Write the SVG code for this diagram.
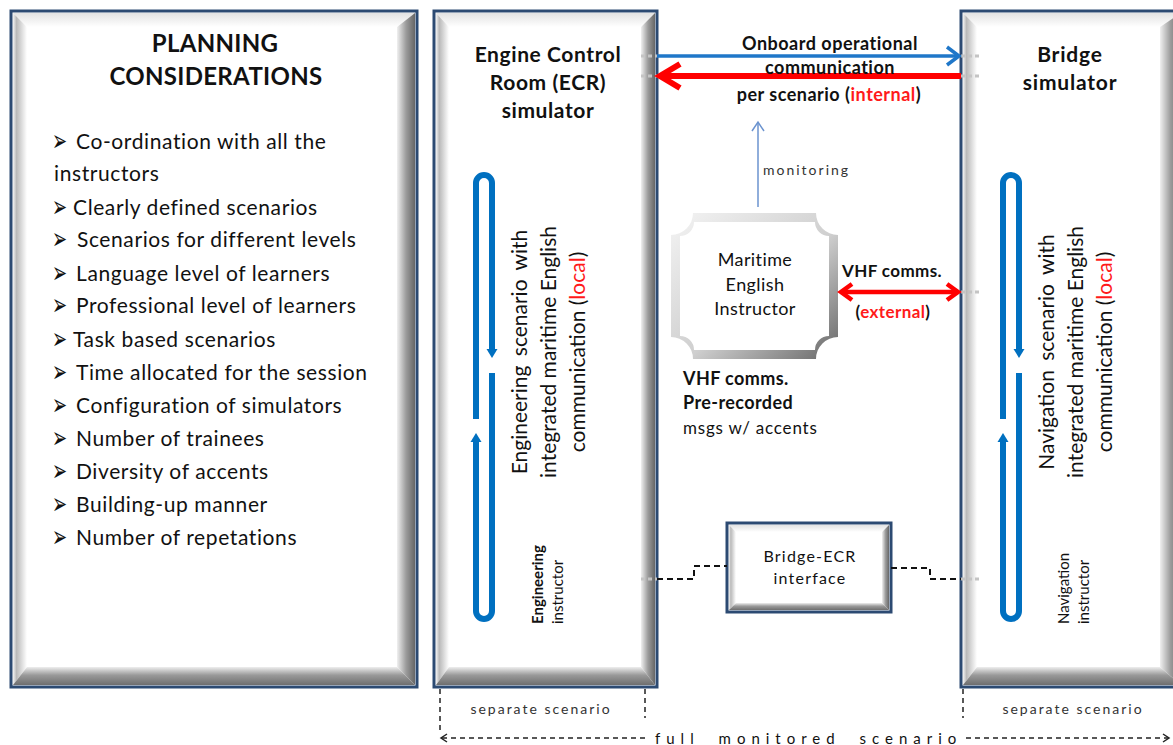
<svg xmlns="http://www.w3.org/2000/svg" width="1173" height="745" viewBox="0 0 1173 745">
  <style>
    .t { font-family: Lato, "Liberation Sans", sans-serif; fill: #111; }
    .b { font-weight: bold; }
    .red { fill: #ff1a1a; }
    .bul { font-family: "DejaVu Sans", sans-serif; font-size: 30px; font-weight: bold; fill: #111; }
    .list { font-size: 21px; letter-spacing: 0.6px; }
    .rot { font-size: 21px; }
    .small { font-size: 14px; fill: #333; }
    .frame { fill: #ffffff; stroke: #2c4a72; stroke-width: 3; }
    .face { fill: #ffffff; }
    .loop { fill: none; stroke: #0070c0; stroke-width: 6; }
    .loophead { fill: #0070c0; }
    .dash { fill: none; stroke: #111; stroke-width: 2; stroke-dasharray: 6 4; }
    .dashfine { fill: none; stroke: #222; stroke-width: 1.5; stroke-dasharray: 5 4; }
    .ghost { fill: none; stroke: #c4c4c4; stroke-width: 3; stroke-dasharray: 4 3; }
  </style>
  <defs>
    <linearGradient id="gTop" x1="0" y1="0" x2="0" y2="1">
      <stop offset="0" stop-color="#e2e2e2"/>
      <stop offset="1" stop-color="#ffffff"/>
    </linearGradient>
    <linearGradient id="gLeft" x1="0" y1="0" x2="1" y2="0">
      <stop offset="0" stop-color="#f2f2f2"/>
      <stop offset="0.25" stop-color="#b9b9b9"/>
      <stop offset="1" stop-color="#ffffff"/>
    </linearGradient>
    <linearGradient id="gRight" x1="0" y1="0" x2="1" y2="0">
      <stop offset="0" stop-color="#f0f0f0"/>
      <stop offset="0.5" stop-color="#9c9c9c"/>
      <stop offset="1" stop-color="#666666"/>
    </linearGradient>
    <linearGradient id="gBottom" x1="0" y1="0" x2="0" y2="1">
      <stop offset="0" stop-color="#eeeeee"/>
      <stop offset="0.45" stop-color="#9a9a9a"/>
      <stop offset="1" stop-color="#6e6e6e"/>
    </linearGradient>
    <linearGradient id="gPlaque" x1="0" y1="0" x2="1" y2="1">
      <stop offset="0" stop-color="#f4f4f4"/>
      <stop offset="0.55" stop-color="#cfcfcf"/>
      <stop offset="1" stop-color="#666666"/>
    </linearGradient>
  </defs>

  <!-- Planning considerations panel -->
  <g id="planning">
    <rect class="frame" x="11" y="11" width="406" height="676"/>
    <polygon fill="url(#gTop)" points="13,13 415,13 397,27 27,27"/>
    <polygon fill="url(#gLeft)" points="13,13 27,27 27,667 13,685"/>
    <polygon fill="url(#gRight)" points="397,27 415,13 415,685 397,667"/>
    <polygon fill="url(#gBottom)" points="13,685 27,667 397,667 415,685"/>
    <rect class="face" x="27" y="27" width="370" height="640"/>
    <text class="t b" font-size="24" text-anchor="middle" x="215" y="52" letter-spacing="0.3">PLANNING</text>
    <text class="t b" font-size="24" text-anchor="middle" x="216" y="85" letter-spacing="0.3">CONSIDERATIONS</text>
    <!-- bullet marks, narrowed horizontally -->
    <g class="bul">
      <text transform="translate(52 151) scale(0.6 1)">➢</text>
      <text transform="translate(52 217) scale(0.6 1)">➢</text>
      <text transform="translate(52 249) scale(0.6 1)">➢</text>
      <text transform="translate(52 283) scale(0.6 1)">➢</text>
      <text transform="translate(52 315) scale(0.6 1)">➢</text>
      <text transform="translate(52 349) scale(0.6 1)">➢</text>
      <text transform="translate(52 382) scale(0.6 1)">➢</text>
      <text transform="translate(52 415) scale(0.6 1)">➢</text>
      <text transform="translate(52 448) scale(0.6 1)">➢</text>
      <text transform="translate(52 481) scale(0.6 1)">➢</text>
      <text transform="translate(52 514) scale(0.6 1)">➢</text>
      <text transform="translate(52 547) scale(0.6 1)">➢</text>
    </g>
    <g class="t list">
      <text x="76" y="149">Co-ordination with all the</text>
      <text x="54" y="181">instructors</text>
      <text x="73" y="215">Clearly defined scenarios</text>
      <text x="77" y="247">Scenarios for different levels</text>
      <text x="76" y="281">Language level of learners</text>
      <text x="76" y="313">Professional level of learners</text>
      <text x="73" y="347">Task based scenarios</text>
      <text x="76" y="380">Time allocated for the session</text>
      <text x="76" y="413">Configuration of simulators</text>
      <text x="76" y="446">Number of trainees</text>
      <text x="76" y="479">Diversity of accents</text>
      <text x="76" y="512">Building-up manner</text>
      <text x="76" y="545">Number of repetations</text>
    </g>
  </g>

  <!-- Engine Control Room simulator -->
  <g id="ecr">
    <rect class="frame" x="434" y="11" width="223" height="676"/>
    <polygon fill="url(#gTop)" points="436,13 655,13 641,27 449,27"/>
    <polygon fill="url(#gLeft)" points="436,13 449,27 449,667 436,685"/>
    <polygon fill="url(#gRight)" points="641,27 655,13 655,685 641,667"/>
    <polygon fill="url(#gBottom)" points="436,685 449,667 641,667 655,685"/>
    <rect class="face" x="449" y="27" width="192" height="640"/>
    <g class="t b" font-size="21" text-anchor="middle" letter-spacing="0.6">
      <text x="548" y="62">Engine Control</text>
      <text x="548" y="90">Room (ECR)</text>
      <text x="548" y="118">simulator</text>
    </g>
    <path class="loop" d="M476 419 V183 A8 8 0 0 1 492 183 V351"/>
    <polygon class="loophead" points="486.5,349 497.5,349 492,358"/>
    <path class="loop" d="M492 373 V611 A8 8 0 0 1 476 611 V440"/>
    <polygon class="loophead" points="470.5,442 481.5,442 476,433"/>
    <g class="t rot" text-anchor="middle" transform="translate(527 352) rotate(-90)">
      <text x="0" y="0" word-spacing="4">Engineering scenario with</text>
      <text x="0" y="29">integrated maritime English</text>
      <text x="0" y="58">communication (<tspan class="red">local</tspan>)</text>
    </g>
    <g class="t" font-size="15" transform="translate(543 624) rotate(-90)">
      <text class="b" x="0" y="0">Engineering</text>
      <text x="0" y="20">instructor</text>
    </g>
  </g>

  <!-- Bridge simulator -->
  <g id="bridge">
    <rect class="frame" x="961" y="11" width="222" height="676"/>
    <polygon fill="url(#gTop)" points="963,13 1181,13 1160,27 977,27"/>
    <polygon fill="url(#gLeft)" points="963,13 977,27 977,667 963,685"/>
    <polygon fill="url(#gRight)" points="1160,27 1181,13 1181,685 1160,667"/>
    <polygon fill="url(#gBottom)" points="963,685 977,667 1160,667 1181,685"/>
    <rect class="face" x="977" y="27" width="183" height="640"/>
    <g class="t b" font-size="21" text-anchor="middle" letter-spacing="0.8">
      <text x="1070" y="62">Bridge</text>
      <text x="1070" y="90">simulator</text>
    </g>
    <path class="loop" d="M1003 419 V183 A8 8 0 0 1 1019 183 V351"/>
    <polygon class="loophead" points="1013.5,349 1024.5,349 1019,358"/>
    <path class="loop" d="M1019 373 V611 A8 8 0 0 1 1003 611 V440"/>
    <polygon class="loophead" points="997.5,442 1008.5,442 1003,433"/>
    <g class="t rot" text-anchor="middle" transform="translate(1054 352) rotate(-90)">
      <text x="0" y="0" word-spacing="4">Navigation scenario with</text>
      <text x="0" y="29">integrated maritime English</text>
      <text x="0" y="58">communication (<tspan class="red">local</tspan>)</text>
    </g>
    <g class="t" font-size="15" transform="translate(1069 624) rotate(-90)">
      <text x="0" y="0">Navigation</text>
      <text x="0" y="20">instructor</text>
    </g>
  </g>

  <!-- Maritime English Instructor -->
  <g id="instructor">
    <path fill="url(#gPlaque)" d="M693 213 H816 A22 22 0 0 0 838 235 V337 A22 22 0 0 0 816 359 H693 A22 22 0 0 0 671 337 V235 A22 22 0 0 0 693 213 Z"/>
    <path fill="#ffffff" d="M694 222 H815 A14 14 0 0 0 829 236 V336 A14 14 0 0 0 815 350 H694 A14 14 0 0 0 680 336 V236 A14 14 0 0 0 694 222 Z"/>
    <g class="t" font-size="18" text-anchor="middle" letter-spacing="0.4">
      <text x="755" y="266">Maritime</text>
      <text x="755" y="291">English</text>
      <text x="755" y="315">Instructor</text>
    </g>
  </g>

  <!-- Bridge-ECR interface -->
  <g id="interface">
    <rect class="frame" x="727" y="523" width="164" height="89"/>
    <polygon fill="url(#gTop)" points="729,525 889,525 882,532 736,532"/>
    <polygon fill="url(#gLeft)" points="729,525 736,532 736,603 729,610"/>
    <polygon fill="url(#gRight)" points="882,532 889,525 889,610 882,603"/>
    <polygon fill="url(#gBottom)" points="729,610 736,603 882,603 889,610"/>
    <rect class="face" x="736" y="532" width="146" height="71"/>
    <g class="t" font-size="16" text-anchor="middle" letter-spacing="1.2">
      <text x="810" y="562">Bridge-ECR</text>
      <text x="810" y="584">interface</text>
    </g>
  </g>

  <!-- Connectors -->
  <g id="connectors">
    <!-- faint continuations inside the simulator frames -->
    <path class="ghost" d="M641 56 H657 M641 76 H657 M961 56 H979 M961 76 H979 M961 292 H979 M641 579 H657 M961 579 H979"/>

    <!-- onboard operational communication -->
    <line x1="657" y1="56" x2="958" y2="56" stroke="#1f77c9" stroke-width="3.5"/>
    <polyline points="947,47 959,56 947,65" fill="none" stroke="#1f77c9" stroke-width="3.5"/>
    <line x1="961" y1="76" x2="661" y2="76" stroke="#ff0000" stroke-width="6"/>
    <polyline points="680,64 660,76 680,88" fill="none" stroke="#ff0000" stroke-width="6"/>

    <!-- monitoring -->
    <line x1="758" y1="207" x2="758" y2="123" stroke="#6b93cf" stroke-width="1.5"/>
    <polyline points="752,131 758,122 764,131" fill="none" stroke="#6b93cf" stroke-width="1.5"/>

    <!-- VHF external -->
    <line x1="842" y1="292" x2="958" y2="292" stroke="#ff0000" stroke-width="4.5"/>
    <polyline points="852,284 841,292 852,300" fill="none" stroke="#ff0000" stroke-width="4.5"/>
    <polyline points="947,284 958,292 947,300" fill="none" stroke="#ff0000" stroke-width="4.5"/>

    <!-- interface links -->
    <polyline class="dash" points="657,579 694,579 694,566 727,566"/>
    <polyline class="dash" points="891,568 930,568 930,579 961,579"/>

    <!-- scenario extents -->
    <line class="dashfine" x1="440" y1="689" x2="440" y2="734"/>
    <line class="dashfine" x1="645" y1="689" x2="645" y2="718"/>
    <line class="dashfine" x1="963" y1="689" x2="963" y2="718"/>
    <line class="dashfine" x1="442" y1="738" x2="648" y2="738"/>
    <line class="dashfine" x1="966" y1="738" x2="1168" y2="738"/>
    <polyline points="447,734 441,738 447,742" fill="none" stroke="#222" stroke-width="1.5"/>
    <polyline points="1163,734 1169,738 1163,742" fill="none" stroke="#222" stroke-width="1.5"/>
  </g>

  <!-- Labels -->
  <g id="labels">
    <g class="t b" font-size="18" text-anchor="middle" letter-spacing="0.5">
      <text x="830" y="50">Onboard operational</text>
      <text x="830" y="74">communication</text>
      <text x="829" y="101">per scenario (<tspan class="red">internal</tspan>)</text>
    </g>
    <text class="t small" x="763" y="175" font-size="16" letter-spacing="2">monitoring</text>
    <g class="t b" font-size="17" text-anchor="middle" letter-spacing="0.4">
      <text x="892" y="277">VHF comms.</text>
      <text x="893" y="318">(<tspan class="red">external</tspan>)</text>
    </g>
    <g class="t" font-size="18" letter-spacing="0.4">
      <text class="b" x="683" y="385">VHF comms.</text>
      <text class="b" x="683" y="409">Pre-recorded</text>
      <text x="683" y="434" font-size="17" letter-spacing="0.8">msgs w/ accents</text>
    </g>
    <text class="t small" x="541" y="714" text-anchor="middle" letter-spacing="2">separate scenario</text>
    <text class="t small" x="1073" y="714" text-anchor="middle" letter-spacing="2">separate scenario</text>
    <text class="t" x="655" y="744" font-size="15" fill="#333" letter-spacing="6" word-spacing="9">full monitored scenario</text>
  </g>
</svg>
